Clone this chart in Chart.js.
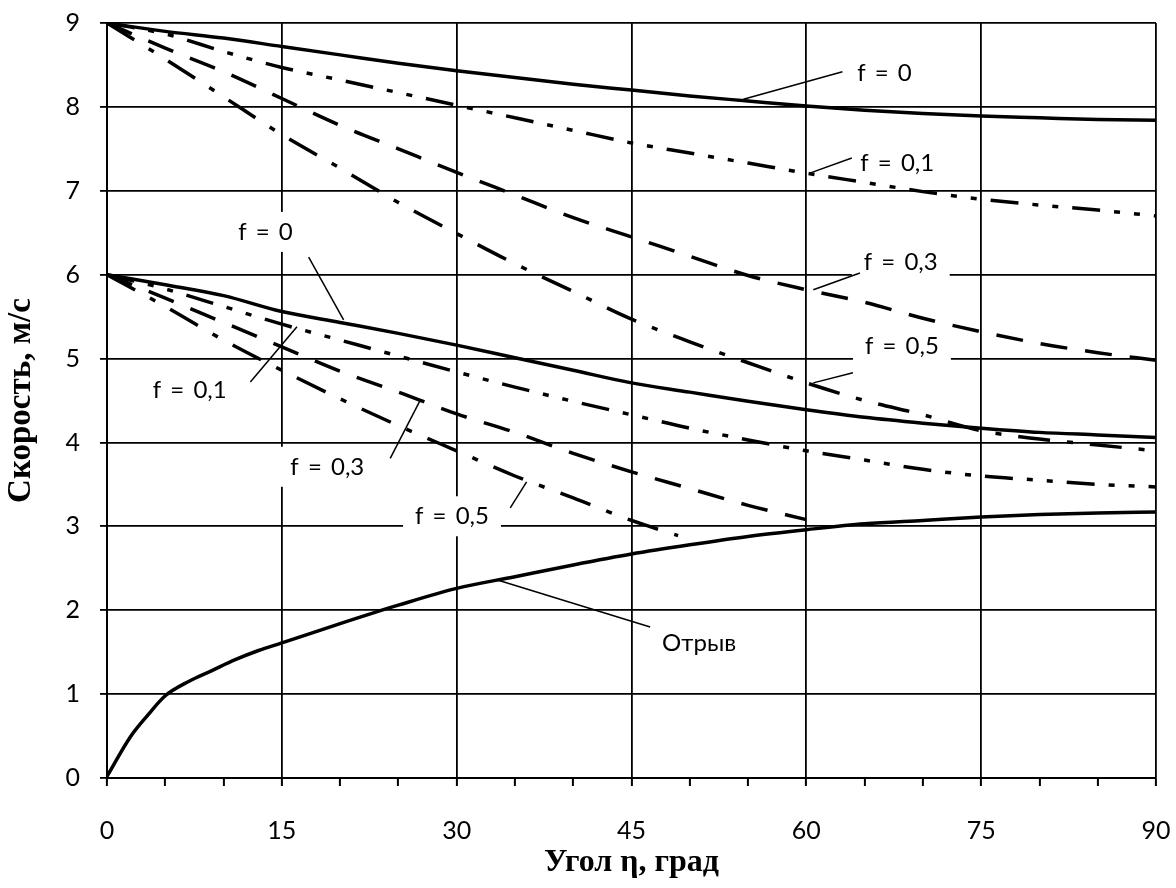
<!DOCTYPE html>
<html>
<head>
<meta charset="utf-8">
<script src="https://cdn.jsdelivr.net/npm/chart.js@4"></script>
<style>
  html, body { margin: 0; padding: 0; background: #fff; }
</style>
</head>
<body>
<canvas id="chart" width="1176" height="888"></canvas>
<script>
// angles, degrees
const angles = [0, 5, 10, 15, 20, 25, 30, 35, 40, 45, 50, 55, 60, 65, 70, 75, 80, 85, 90];
const anglesTo60 = [0, 5, 10, 15, 20, 25, 30, 35, 40, 45, 50, 55, 60];
const anglesTo49 = [0, 5, 10, 15, 20, 25, 30, 35, 40, 45, 49];
const sepAngles = [0, 2, 3.5, 5, 7, 9, 11, 13, 15, 20, 25, 30, 35, 40, 45, 50, 55, 60, 65, 70, 75, 80, 85, 90];

// upper family (start 9 m/s)
const upF0 = [9.0, 8.9, 8.82, 8.72, 8.62, 8.52, 8.43, 8.35, 8.27, 8.2, 8.13, 8.07, 8.01, 7.96, 7.92, 7.89, 7.87, 7.85, 7.84];
const upF01 = [9.0, 8.87, 8.66, 8.47, 8.32, 8.17, 8.02, 7.87, 7.72, 7.57, 7.45, 7.33, 7.21, 7.1, 6.99, 6.9, 6.83, 6.77, 6.7];
const upF03 = [9.0, 8.7, 8.42, 8.1, 7.78, 7.5, 7.22, 6.95, 6.68, 6.45, 6.22, 5.99, 5.82, 5.67, 5.48, 5.32, 5.18, 5.07, 4.98];
const upF05 = [9.0, 8.57, 8.12, 7.67, 7.27, 6.86, 6.49, 6.13, 5.8, 5.47, 5.2, 4.95, 4.71, 4.5, 4.33, 4.14, 4.04, 3.97, 3.9];

// lower family (start 6 m/s)
const lowF0 = [6.0, 5.88, 5.75, 5.56, 5.43, 5.3, 5.16, 5.01, 4.86, 4.71, 4.6, 4.49, 4.39, 4.3, 4.23, 4.17, 4.12, 4.09, 4.06];
const lowF01 = [6.0, 5.83, 5.62, 5.41, 5.22, 5.03, 4.84, 4.66, 4.49, 4.33, 4.17, 4.03, 3.9, 3.79, 3.68, 3.6, 3.55, 3.5, 3.47];
const lowF03 = [6.0, 5.72, 5.43, 5.14, 4.85, 4.6, 4.34, 4.12, 3.87, 3.65, 3.45, 3.25, 3.08];
const lowF05 = [6.0, 5.62, 5.22, 4.86, 4.52, 4.2, 3.9, 3.6, 3.34, 3.07, 2.89];

// separation curve
const sepSpeed = [0.02, 0.49, 0.75, 0.98, 1.15, 1.28, 1.41, 1.52, 1.61, 1.84, 2.06, 2.26, 2.4, 2.54, 2.67, 2.78, 2.88, 2.96, 3.03, 3.07, 3.11, 3.14, 3.16, 3.17];

// callouts: text centre and leader line, in axis units
const notes = [
  { text: "f = 0", x: 66.7, y: 8.4, from: [63.1, 8.42], to: [54.6, 8.09] },
  { text: "f = 0,1", x: 67.8, y: 7.33, from: [63.9, 7.39], to: [60.3, 7.21] },
  { text: "f = 0,3", x: 68.1, y: 6.15, from: [64.6, 6.02], to: [60.6, 5.82] },
  { text: "f = 0,5", x: 68.2, y: 5.15, from: [64.0, 4.83], to: [60.6, 4.71] },
  { text: "f = 0", x: 13.6, y: 6.51, from: [17.3, 6.21], to: [20.3, 5.46] },
  { text: "f = 0,1", x: 7.1, y: 4.62, from: [12.3, 4.72], to: [16.3, 5.38] },
  { text: "f = 0,3", x: 18.9, y: 3.71, from: [24.3, 3.81], to: [26.9, 4.51] },
  { text: "f = 0,5", x: 29.6, y: 3.12, from: [34.6, 3.22], to: [36.0, 3.53] },
  { text: "Отрыв", x: 50.8, y: 1.61, from: [46.6, 1.8], to: [33.5, 2.36] },
];

const solid = [];
const dashDotDot = [28, 14, 6, 14, 6, 14];
const longDash = [27, 18];
const dashDot = [32, 17, 6, 17];

const pts = (xs, ys) => xs.map((v, i) => ({ x: v, y: ys[i] }));

const line = (data, dash) => ({
  data: data,
  borderColor: "#000",
  borderWidth: 3.5,
  borderDash: dash,
  pointRadius: 0,
  cubicInterpolationMode: "monotone",
  fill: false,
});

const noteFont = "24px Lato";

// labels drawn with a white box under the data lines
const notesPlugin = {
  id: "notes",
  beforeDatasetsDraw(chart) {
    const { ctx, scales } = chart;
    ctx.save();
    ctx.font = noteFont;
    ctx.wordSpacing = "3px";
    ctx.fillStyle = "#fff";
    notes.forEach((n) => {
      const w = ctx.measureText(n.text).width;
      const cx = scales.x.getPixelForValue(n.x);
      const cy = scales.y.getPixelForValue(n.y);
      ctx.fillRect(cx - w / 2 - 12, cy - 20, w + 24, 40);
    });
    ctx.restore();
  },
  afterDatasetsDraw(chart) {
    const { ctx, scales } = chart;
    ctx.save();
    ctx.strokeStyle = "#000";
    ctx.lineWidth = 1.5;
    ctx.fillStyle = "#000";
    ctx.font = noteFont;
    ctx.wordSpacing = "3px";
    ctx.textAlign = "center";
    ctx.textBaseline = "middle";
    notes.forEach((n) => {
      ctx.beginPath();
      ctx.moveTo(scales.x.getPixelForValue(n.from[0]), scales.y.getPixelForValue(n.from[1]));
      ctx.lineTo(scales.x.getPixelForValue(n.to[0]), scales.y.getPixelForValue(n.to[1]));
      ctx.stroke();
      ctx.fillText(n.text, scales.x.getPixelForValue(n.x), scales.y.getPixelForValue(n.y));
    });
    ctx.restore();
  },
};

const chart = document.querySelector("#chart").getContext("2d");

new Chart(chart, {
  type: "line",
  data: {
    datasets: [
      line(pts(angles, upF0), solid),
      line(pts(angles, upF01), dashDotDot),
      line(pts(angles, upF03), longDash),
      line(pts(angles, upF05), dashDot),
      line(pts(angles, lowF0), solid),
      line(pts(angles, lowF01), dashDotDot),
      line(pts(anglesTo60, lowF03), longDash),
      line(pts(anglesTo49, lowF05), dashDot),
      line(pts(sepAngles, sepSpeed), solid),
    ],
  },
  options: {
    responsive: false,
    animation: false,
    layout: { padding: { top: 23, right: 20, left: 0, bottom: 0 } },
    plugins: { legend: { display: false }, tooltip: { enabled: false } },
    scales: {
      x: {
        type: "linear",
        min: 0,
        max: 90,
        // fixed axis box, no extra room for the end labels
        afterFit: (s) => {
          s.height = 110;
          s.paddingLeft = 0;
          s.paddingRight = 0;
        },
        ticks: {
          stepSize: 5,
          autoSkip: false,
          maxRotation: 0,
          padding: 30,
          color: "#000",
          font: { family: "Lato", size: 25 },
          callback: (v) => (v % 15 === 0 ? v : ""),
        },
        grid: {
          color: (c) => (c.tick && c.tick.value % 15 === 0 ? "#000" : "rgba(0,0,0,0)"),
          tickColor: "#000",
          lineWidth: 1.8,
          tickWidth: 2,
          tickLength: 8,
        },
        border: { color: "#000", width: 2 },
        title: {
          display: true,
          text: "Угол η, град",
          color: "#000",
          font: { family: "Liberation Serif", size: 32, weight: "bold" },
          padding: { top: 0, bottom: 6 },
        },
      },
      y: {
        min: 0,
        max: 9,
        afterFit: (s) => {
          s.width = 107;
          s.paddingTop = 0;
          s.paddingBottom = 0;
        },
        ticks: {
          stepSize: 1,
          padding: 20,
          color: "#000",
          font: { family: "Lato", size: 25 },
        },
        grid: { color: "#000", lineWidth: 1.8, tickLength: 7 },
        border: { color: "#000", width: 2 },
        title: {
          display: true,
          text: "Скорость, м/с",
          color: "#000",
          font: { family: "Liberation Serif", size: 33, weight: "bold" },
          padding: { top: 2, bottom: 0 },
        },
      },
    },
  },
  plugins: [notesPlugin],
});
</script>
</body>
</html>
